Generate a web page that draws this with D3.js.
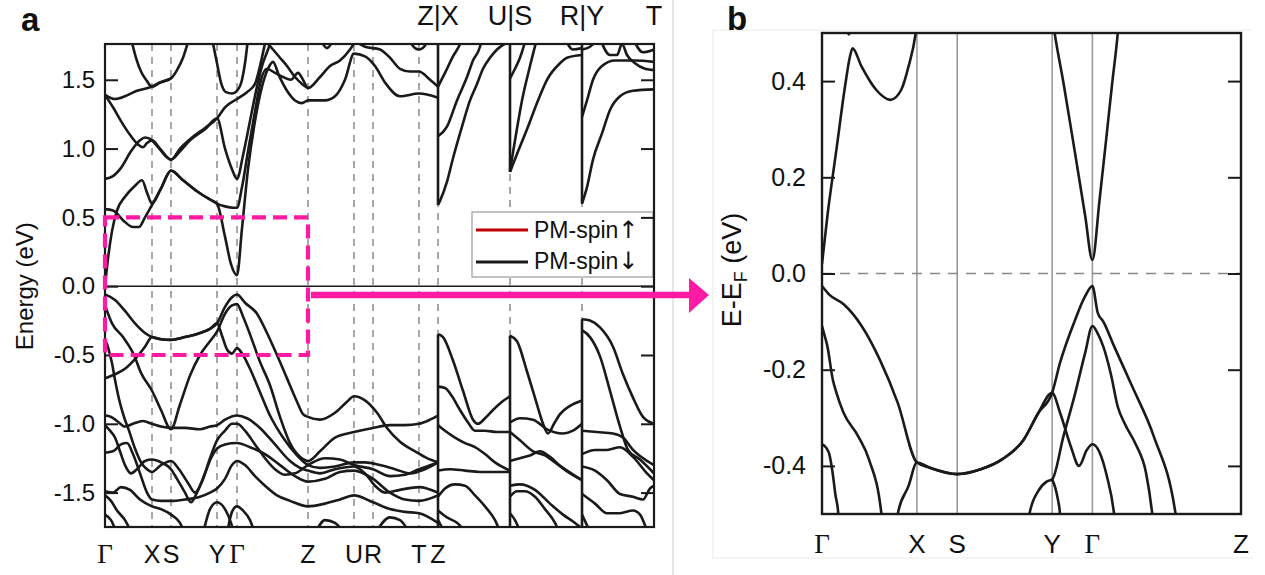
<!DOCTYPE html>
<html>
<head>
<meta charset="utf-8">
<script src="https://cdn.jsdelivr.net/npm/d3@7"></script>
<style>
  body { margin: 0; background: #fff; }
</style>
</head>
<body>
<svg id="chart" width="1265" height="575"></svg>
<script>
// ---------- panel a : full path ----------
var kTicksA = [0, 0.47, 0.66, 1.12, 1.32, 2.03, 2.49, 2.68, 3.14, 3.33, 4.05, 4.77, 5.49];
var kLabelsA = ["Γ", "X", "S", "Y", "Γ", "Z", "U", "R", "T", "Z"];
var topLabelsA = ["Z|X", "U|S", "R|Y", "T"];
var topLabelKA = [3.33, 4.05, 4.77, 5.49];
var energyTicksA = [-1.5, -1, -0.5, 0, 0.5, 1, 1.5];
var legendLabels = ["PM-spin", "PM-spin"];
var legendArrows = ["↑", "↓"];
var legendColors = ["#c00000", "#1a1a1a"];

// Γ-X-S-Y-Γ-Z-U-R-T-Z, conduction side
var condA1 = [
  [[0,0],[0.03,0.2],[0.07,0.4],[0.12,0.55],[0.2,0.65],[0.3,0.73],[0.37,0.77],[0.42,0.68],[0.47,0.6],[0.56,0.71],[0.66,0.84],[0.78,0.77],[0.92,0.69],[1.05,0.63],[1.12,0.6],[1.2,0.36],[1.26,0.16],[1.32,0.08],[1.37,0.42],[1.43,0.85],[1.5,1.2],[1.57,1.45],[1.63,1.58],[1.68,1.63],[1.74,1.53],[1.82,1.42],[1.9,1.35],[1.97,1.33],[2.03,1.35],[2.2,1.35],[2.3,1.38],[2.4,1.5],[2.49,1.69],[2.6,1.67],[2.7,1.6],[2.8,1.48],[2.95,1.38],[3.14,1.4],[3.33,1.37]],
  [[0,0.56],[0.08,0.55],[0.18,0.48],[0.28,0.43],[0.34,0.43],[0.4,0.5],[0.47,0.59],[0.56,0.71],[0.66,0.84],[0.78,0.77],[0.92,0.69],[1.05,0.63],[1.12,0.6],[1.2,0.58],[1.28,0.57],[1.32,0.57],[1.37,0.72],[1.43,0.98],[1.5,1.27],[1.56,1.5],[1.62,1.58],[1.7,1.55],[1.78,1.52],[1.86,1.5],[1.93,1.55],[1.98,1.5],[2.03,1.44],[2.15,1.52],[2.25,1.6],[2.35,1.64],[2.45,1.72],[2.52,1.8]],
  [[0,0.78],[0.08,0.8],[0.16,0.86],[0.26,0.98],[0.35,1.06],[0.4,1.08],[0.45,1.07],[0.52,1.02],[0.6,0.95],[0.66,0.92],[0.75,0.98],[0.85,1.06],[1.0,1.14],[1.12,1.22],[1.2,1.0],[1.27,0.85],[1.32,0.78],[1.38,0.95],[1.45,1.2],[1.52,1.45],[1.57,1.6],[1.62,1.7],[1.67,1.8]],
  [[0,1.39],[0.08,1.3],[0.16,1.2],[0.25,1.1],[0.33,1.03],[0.38,1.01],[0.42,1.04],[0.47,1.06],[0.55,1.0],[0.66,0.92],[0.75,1.0],[0.87,1.08],[1.0,1.15],[1.12,1.22],[1.2,1.3],[1.32,1.36],[1.42,1.41],[1.5,1.47],[1.55,1.6],[1.59,1.73],[1.61,1.8]],
  [[0,1.39],[0.1,1.36],[0.2,1.38],[0.32,1.42],[0.47,1.45],[0.55,1.48],[0.66,1.51],[0.72,1.57],[0.78,1.66],[0.84,1.8]],
  [[0.26,1.8],[0.31,1.66],[0.36,1.56],[0.42,1.49],[0.47,1.45],[0.55,1.48],[0.66,1.51]],
  [[1.07,1.8],[1.12,1.62],[1.16,1.48],[1.21,1.41],[1.27,1.4],[1.32,1.42],[1.37,1.5],[1.4,1.62],[1.43,1.8]],
  [[1.58,1.8],[1.68,1.72],[1.75,1.66],[1.82,1.6],[1.9,1.52],[1.97,1.47],[2.03,1.44]],
  [[2.47,1.8],[2.6,1.74],[2.75,1.72],[2.85,1.66],[2.95,1.58],[3.05,1.56],[3.14,1.56],[3.25,1.5],[3.33,1.45]],
  [[3.03,1.8],[3.1,1.73],[3.14,1.72],[3.19,1.74],[3.24,1.8]],
  [[2.15,1.8],[2.22,1.73],[2.29,1.8]]
];

// Γ-X-S-Y-Γ-Z-U-R-T-Z, valence side
var valA1 = [
  [[0,-0.06],[0.1,-0.1],[0.2,-0.18],[0.3,-0.27],[0.4,-0.34],[0.47,-0.37],[0.56,-0.385],[0.66,-0.39],[0.8,-0.37],[0.95,-0.34],[1.05,-0.31],[1.12,-0.27],[1.2,-0.15],[1.27,-0.08],[1.32,-0.06],[1.4,-0.12],[1.52,-0.2],[1.62,-0.34],[1.72,-0.5],[1.82,-0.67],[1.92,-0.84],[1.98,-0.93],[2.03,-0.95],[2.15,-0.97],[2.3,-0.92],[2.42,-0.84],[2.49,-0.8],[2.6,-0.83],[2.72,-0.92],[2.82,-1.03],[2.95,-1.13],[3.1,-1.2],[3.22,-1.25],[3.33,-1.28]],
  [[0,-0.14],[0.07,-0.27],[0.18,-0.37],[0.29,-0.5],[0.36,-0.63],[0.47,-0.76],[0.56,-0.9],[0.66,-1.04],[0.75,-0.86],[0.85,-0.65],[0.95,-0.5],[1.05,-0.4],[1.12,-0.33],[1.2,-0.2],[1.27,-0.14],[1.32,-0.13],[1.38,-0.22],[1.45,-0.35],[1.55,-0.55],[1.65,-0.72],[1.75,-0.95],[1.85,-1.14],[1.95,-1.24],[2.03,-1.27],[2.15,-1.2],[2.3,-1.1],[2.49,-1.06],[2.68,-1.03],[2.85,-1.01],[3.0,-1.01],[3.14,-1.0],[3.25,-0.97],[3.33,-0.94]],
  [[0,-0.4],[0.02,-0.42],[0.04,-0.47],[0.07,-0.56],[0.1,-0.68],[0.14,-0.82],[0.19,-0.95],[0.24,-1.05],[0.3,-1.18],[0.36,-1.28],[0.42,-1.33],[0.47,-1.35],[0.56,-1.3],[0.66,-1.27],[0.74,-1.33],[0.83,-1.43],[0.9,-1.5],[0.97,-1.42],[1.05,-1.25],[1.12,-1.12],[1.2,-1.05],[1.27,-1.0],[1.32,-1.0],[1.4,-1.05],[1.5,-1.15],[1.6,-1.25],[1.7,-1.33],[1.8,-1.37],[1.9,-1.36],[2.03,-1.3],[2.2,-1.25],[2.35,-1.26],[2.49,-1.3],[2.68,-1.33],[2.85,-1.38],[3.0,-1.37],[3.14,-1.33],[3.33,-1.28]],
  [[0,-0.67],[0.1,-0.64],[0.2,-0.6],[0.3,-0.53],[0.4,-0.44],[0.47,-0.37],[0.56,-0.385],[0.66,-0.39],[0.8,-0.37],[0.95,-0.34],[1.05,-0.31],[1.12,-0.27],[1.17,-0.36],[1.22,-0.46],[1.27,-0.49],[1.32,-0.45],[1.38,-0.5],[1.45,-0.6],[1.55,-0.77],[1.65,-0.94],[1.78,-1.1],[1.92,-1.23],[2.03,-1.3],[2.15,-1.32],[2.3,-1.31],[2.49,-1.28],[2.6,-1.28],[2.75,-1.3],[2.9,-1.33],[3.05,-1.36],[3.2,-1.33],[3.33,-1.28]],
  [[0,-0.94],[0.06,-0.95],[0.12,-0.98],[0.2,-1.02],[0.28,-1.0],[0.38,-0.98],[0.47,-1.0],[0.56,-1.02],[0.66,-1.03],[0.8,-1.03],[0.95,-1.04],[1.05,-1.02],[1.12,-1.01],[1.2,-0.97],[1.32,-0.94],[1.42,-0.96],[1.55,-1.03],[1.7,-1.15],[1.85,-1.27],[1.95,-1.32],[2.03,-1.34],[2.15,-1.36],[2.3,-1.33],[2.49,-1.31],[2.6,-1.36],[2.7,-1.45],[2.8,-1.5],[2.95,-1.48],[3.14,-1.46],[3.33,-1.5]],
  [[0,-1.01],[0.05,-1.05],[0.1,-1.1],[0.15,-1.2],[0.2,-1.3],[0.26,-1.36],[0.32,-1.33],[0.4,-1.27],[0.47,-1.26],[0.56,-1.28],[0.66,-1.33],[0.72,-1.4],[0.8,-1.5],[0.86,-1.57],[0.92,-1.5],[1.0,-1.36],[1.06,-1.25],[1.12,-1.18],[1.2,-1.15],[1.32,-1.14],[1.45,-1.17],[1.6,-1.22],[1.75,-1.3],[1.9,-1.38],[2.03,-1.42],[2.2,-1.4],[2.35,-1.35],[2.49,-1.34],[2.68,-1.4],[2.85,-1.5],[3.0,-1.55],[3.14,-1.56],[3.33,-1.52]],
  [[0,-1.21],[0.08,-1.2],[0.16,-1.15],[0.22,-1.14],[0.28,-1.22],[0.35,-1.36],[0.42,-1.5],[0.47,-1.55],[0.56,-1.56],[0.66,-1.56],[0.8,-1.55],[0.95,-1.53],[1.05,-1.5],[1.12,-1.47],[1.2,-1.4],[1.27,-1.3],[1.32,-1.27],[1.4,-1.3],[1.5,-1.38],[1.6,-1.45],[1.72,-1.52],[1.85,-1.56],[2.03,-1.6],[2.2,-1.58],[2.35,-1.55],[2.49,-1.52],[2.68,-1.57],[2.85,-1.62],[3.0,-1.64],[3.14,-1.65],[3.33,-1.72]],
  [[0,-1.49],[0.08,-1.5],[0.16,-1.46],[0.25,-1.48],[0.35,-1.55],[0.47,-1.6],[0.56,-1.62],[0.66,-1.66],[0.75,-1.72],[0.8,-1.8]],
  [[0,-1.52],[0.06,-1.56],[0.12,-1.63],[0.2,-1.7],[0.27,-1.8]],
  [[0,-1.66],[0.06,-1.7],[0.12,-1.8]],
  [[0.98,-1.8],[1.05,-1.62],[1.12,-1.57],[1.2,-1.62],[1.26,-1.72],[1.29,-1.8]],
  [[1.22,-1.8],[1.27,-1.64],[1.32,-1.6],[1.38,-1.63],[1.45,-1.7],[1.5,-1.8]],
  [[2.1,-1.8],[2.2,-1.7],[2.3,-1.72],[2.4,-1.8]],
  [[2.7,-1.8],[2.85,-1.68],[2.95,-1.7],[3.05,-1.8]]
];

// X-U
var condA2 = [
  [[3.33,0.59],[3.35,0.62],[3.42,0.76],[3.48,0.93],[3.57,1.16],[3.65,1.35],[3.72,1.47],[3.78,1.58],[3.85,1.66],[3.92,1.72],[4.05,1.78]],
  [[3.33,1.09],[3.42,1.16],[3.52,1.35],[3.62,1.52],[3.68,1.64],[3.75,1.74],[3.77,1.8]],
  [[3.33,1.45],[3.4,1.55],[3.48,1.67],[3.55,1.76],[3.57,1.8]]
];
var valA2 = [
  [[3.33,-0.35],[3.38,-0.37],[3.48,-0.54],[3.58,-0.76],[3.68,-0.97],[3.73,-1.0],[3.8,-0.96],[3.88,-0.9],[3.97,-0.84],[4.05,-0.8]],
  [[3.33,-0.73],[3.4,-0.74],[3.47,-0.8],[3.55,-0.9],[3.63,-0.99],[3.7,-1.05],[3.8,-1.05],[3.92,-1.06],[4.05,-1.06]],
  [[3.33,-1.01],[3.4,-1.05],[3.5,-1.1],[3.6,-1.14],[3.7,-1.17],[3.8,-1.22],[3.9,-1.28],[4.05,-1.34]],
  [[3.33,-1.34],[3.45,-1.33],[3.6,-1.34],[3.75,-1.35],[3.9,-1.35],[4.05,-1.35]],
  [[3.33,-1.53],[3.4,-1.47],[3.5,-1.44],[3.6,-1.45],[3.7,-1.52],[3.8,-1.6],[3.9,-1.7],[3.96,-1.8]],
  [[3.33,-1.63],[3.42,-1.68],[3.52,-1.72],[3.62,-1.8]],
  [[3.33,-1.7],[3.36,-1.74],[3.4,-1.8]]
];

// S-R
var condA3 = [
  [[4.05,0.83],[4.12,0.96],[4.22,1.14],[4.33,1.35],[4.42,1.5],[4.55,1.62],[4.62,1.66],[4.77,1.68]],
  [[4.05,0.84],[4.1,1.06],[4.17,1.35],[4.25,1.6],[4.32,1.8]],
  [[4.05,1.51],[4.1,1.58],[4.15,1.66],[4.21,1.8]],
  [[4.6,1.8],[4.68,1.72],[4.77,1.73]]
];
var valA3 = [
  [[4.05,-0.36],[4.12,-0.4],[4.22,-0.62],[4.32,-0.86],[4.38,-1.0],[4.43,-1.07],[4.49,-1.0],[4.55,-0.93],[4.65,-0.87],[4.77,-0.83]],
  [[4.05,-0.99],[4.15,-0.96],[4.28,-0.97],[4.42,-1.04],[4.58,-1.07],[4.68,-1.05],[4.77,-1.0]],
  [[4.05,-1.06],[4.15,-1.12],[4.28,-1.2],[4.4,-1.23],[4.5,-1.28],[4.62,-1.34],[4.77,-1.41]],
  [[4.05,-1.27],[4.15,-1.25],[4.25,-1.23],[4.35,-1.2],[4.45,-1.24],[4.57,-1.32],[4.77,-1.41]],
  [[4.05,-1.45],[4.15,-1.44],[4.3,-1.48],[4.45,-1.58],[4.58,-1.66],[4.68,-1.71],[4.77,-1.76]],
  [[4.05,-1.53],[4.12,-1.49],[4.2,-1.49],[4.3,-1.53],[4.4,-1.62],[4.5,-1.72],[4.55,-1.8]],
  [[4.05,-1.65],[4.1,-1.7],[4.16,-1.8]]
];

// Y-T
var condA4 = [
  [[4.77,0.6],[4.82,0.72],[4.88,0.92],[4.97,1.11],[5.05,1.28],[5.15,1.38],[5.28,1.42],[5.49,1.43]],
  [[4.77,1.23],[4.82,1.35],[4.88,1.5],[4.97,1.6],[5.1,1.64],[5.3,1.64],[5.49,1.63]],
  [[4.95,1.8],[5.05,1.68],[5.12,1.68],[5.17,1.76],[5.22,1.68],[5.3,1.62],[5.4,1.58],[5.49,1.57]],
  [[4.77,1.72],[4.85,1.74],[4.93,1.8]],
  [[5.28,1.8],[5.38,1.7],[5.49,1.72]]
];
var valA4 = [
  [[4.77,-0.24],[4.85,-0.25],[4.95,-0.3],[5.08,-0.44],[5.18,-0.64],[5.28,-0.81],[5.38,-0.95],[5.49,-1.0]],
  [[4.77,-0.32],[4.85,-0.37],[4.95,-0.51],[5.05,-0.76],[5.15,-1.02],[5.23,-1.19],[5.35,-1.26],[5.49,-1.36]],
  [[4.77,-1.05],[4.92,-1.06],[5.08,-1.07],[5.18,-1.1],[5.28,-1.19],[5.42,-1.27],[5.49,-1.3]],
  [[4.77,-1.22],[4.9,-1.19],[5.02,-1.19],[5.15,-1.17],[5.28,-1.24],[5.42,-1.36],[5.49,-1.41]],
  [[4.77,-1.31],[4.9,-1.34],[5.02,-1.41],[5.15,-1.51],[5.28,-1.53],[5.38,-1.55],[5.45,-1.47],[5.49,-1.45]],
  [[4.77,-1.51],[4.9,-1.58],[5.02,-1.65],[5.15,-1.65],[5.28,-1.63],[5.35,-1.66],[5.43,-1.8]],
  [[4.77,-1.66],[4.86,-1.8]]
];

// ---------- panel b : zoom near E_F ----------
var kTicksB = [0, 0.46, 0.655, 1.115, 1.31, 2.03];
var kLabelsB = ["Γ", "X", "S", "Y", "Γ", "Z"];
var energyTicksB = [-0.4, -0.2, 0, 0.2, 0.4];

var condB = [
  [[0,0.02],[0.026,0.119],[0.07,0.258],[0.114,0.396],[0.135,0.45],[0.148,0.468],[0.192,0.43],[0.262,0.382],[0.332,0.361],[0.384,0.382],[0.419,0.43],[0.454,0.5],[0.46,0.52]],
  [[0.112,0.52],[0.13,0.497],[0.148,0.52]],
  [[1.12,0.52],[1.127,0.5],[1.17,0.396],[1.223,0.258],[1.275,0.12],[1.31,0.028],[1.345,0.154],[1.38,0.292],[1.406,0.396],[1.433,0.5],[1.437,0.52]]
];
var valB = [
  [[0,-0.026],[0.035,-0.044],[0.105,-0.064],[0.192,-0.109],[0.28,-0.179],[0.367,-0.269],[0.46,-0.393],[0.524,-0.404],[0.655,-0.417],[0.769,-0.407],[0.874,-0.386],[0.978,-0.345],[1.048,-0.29],[1.115,-0.248],[1.153,-0.186],[1.223,-0.1],[1.275,-0.047],[1.31,-0.026],[1.336,-0.082],[1.363,-0.1],[1.415,-0.151],[1.502,-0.234],[1.607,-0.338],[1.712,-0.497],[1.72,-0.52]],
  [[0.36,-0.52],[0.367,-0.5],[0.419,-0.442],[0.46,-0.393],[0.524,-0.404],[0.655,-0.417],[0.769,-0.407],[0.874,-0.386],[0.978,-0.345],[1.048,-0.29],[1.115,-0.248],[1.153,-0.289],[1.205,-0.359],[1.245,-0.4],[1.284,-0.366],[1.31,-0.355],[1.345,-0.372],[1.38,-0.421],[1.415,-0.5],[1.42,-0.52]],
  [[0,-0.109],[0.01,-0.125],[0.026,-0.151],[0.052,-0.22],[0.07,-0.248],[0.105,-0.29],[0.175,-0.338],[0.227,-0.386],[0.288,-0.5],[0.292,-0.52]],
  [[0,-0.355],[0.02,-0.362],[0.035,-0.375],[0.05,-0.41],[0.065,-0.46],[0.079,-0.5],[0.082,-0.52]],
  [[1.0,-0.52],[1.005,-0.5],[1.048,-0.452],[1.09,-0.432],[1.115,-0.428],[1.17,-0.338],[1.223,-0.255],[1.275,-0.165],[1.31,-0.109],[1.336,-0.125],[1.363,-0.152],[1.4,-0.21],[1.433,-0.277],[1.47,-0.315],[1.52,-0.355],[1.57,-0.415],[1.6,-0.5],[1.605,-0.52]],
  [[1.115,-0.428],[1.13,-0.445],[1.143,-0.47],[1.153,-0.5],[1.156,-0.52]]
];

var FONT = "Arial, 'Liberation Sans', sans-serif";
var SERIF = "'Liberation Serif', 'Times New Roman', serif";
var INK = "#1a1a1a";
var PINK = "#ff1aa3";

var svg = d3.select("#chart");
var defs = svg.append("defs");

// light separators of the composed figure
svg.append("line").attr("x1", 673).attr("x2", 673).attr("y1", 0).attr("y2", 575)
  .attr("stroke", "#dedede").attr("stroke-width", 1.5);
svg.append("path").attr("d", "M1253,30 H713 V558 H1253")
  .attr("fill", "none").attr("stroke", "#ececec").attr("stroke-width", 1.2);

function drawBands(g, bands, line, w) {
  g.selectAll(null).data(bands).enter().append("path")
    .attr("d", line)
    .attr("fill", "none")
    .attr("stroke", INK)
    .attr("stroke-width", w)
    .attr("stroke-linejoin", "round");
}

function styleAxis(g, size) {
  g.select(".domain").remove();
  g.selectAll("line").attr("stroke", INK).attr("stroke-width", 2);
  g.selectAll("text").attr("font-size", size).attr("font-family", FONT).attr("fill", "#111");
}

// ================= panel a =================
var xA = d3.scaleLinear().domain([0, 5.49]).range([105, 654]);
var yA = d3.scaleLinear().domain([-1.75, 1.76]).range([527, 44]);

defs.append("clipPath").attr("id", "clipA").append("rect")
  .attr("x", xA(0)).attr("y", yA(1.76))
  .attr("width", xA(5.49) - xA(0)).attr("height", yA(-1.75) - yA(1.76));

var pa = svg.append("g");

pa.selectAll(".kline").data(kTicksA.slice(1, -1)).enter().append("line")
  .attr("x1", d => xA(d)).attr("x2", d => xA(d))
  .attr("y1", yA(1.76)).attr("y2", yA(-1.75))
  .attr("stroke", "#8a8a8a").attr("stroke-width", 1.5).attr("stroke-dasharray", "7,6");

pa.append("line")
  .attr("x1", xA(0)).attr("x2", xA(5.49)).attr("y1", yA(0)).attr("y2", yA(0))
  .attr("stroke", INK).attr("stroke-width", 1.6);

var lineA = d3.line().x(d => xA(d[0])).y(d => yA(d[1])).curve(d3.curveMonotoneX);
var bandsA = [].concat(condA1, valA1, condA2, valA2, condA3, valA3, condA4, valA4);
var bandLayerA = pa.append("g").attr("clip-path", "url(#clipA)");
drawBands(bandLayerA, bandsA, lineA, 2.6);

// band jumps at the path discontinuities Z|X, U|S, R|Y
topLabelKA.slice(0, 3).forEach(function (k) {
  var ends = [];
  bandsA.forEach(function (b) { b.forEach(function (p) { if (p[0] === k) ends.push(p[1]); }); });
  var vTop = d3.max(ends.filter(e => e < 0));
  var cBot = d3.min(ends.filter(e => e > 0));
  [[-1.75, vTop], [cBot, 1.76]].forEach(function (r) {
    bandLayerA.append("line")
      .attr("x1", xA(k)).attr("x2", xA(k)).attr("y1", yA(r[0])).attr("y2", yA(r[1]))
      .attr("stroke", INK).attr("stroke-width", 2.6);
  });
});

// legend
var lg = pa.append("g").attr("transform", "translate(472,212)");
lg.append("rect").attr("width", 181).attr("height", 65)
  .attr("fill", "#fff").attr("stroke", "#9a9a9a").attr("stroke-width", 1.2);
legendLabels.forEach(function (t, i) {
  lg.append("line").attr("x1", 4).attr("x2", 56).attr("y1", 18 + i * 32).attr("y2", 18 + i * 32)
    .attr("stroke", legendColors[i]).attr("stroke-width", 3);
  var tx = lg.append("text").attr("x", 62).attr("y", 26 + i * 31)
    .attr("font-family", FONT).attr("font-size", 23).attr("fill", "#111");
  tx.append("tspan").text(t);
  tx.append("tspan").attr("font-family", "'DejaVu Sans', sans-serif").attr("font-size", 24).text(legendArrows[i]);
});

// frame + ticks
pa.append("rect")
  .attr("x", xA(0)).attr("y", yA(1.76))
  .attr("width", xA(5.49) - xA(0)).attr("height", yA(-1.75) - yA(1.76))
  .attr("fill", "none").attr("stroke", INK).attr("stroke-width", 2.2);

pa.append("g").attr("transform", "translate(" + xA(0) + ",0)")
  .call(d3.axisLeft(yA).tickValues(energyTicksA).tickSize(-13).tickPadding(10).tickFormat(d => d.toFixed(1)))
  .call(g => styleAxis(g, 24));
pa.append("g").attr("transform", "translate(" + xA(5.49) + ",0)")
  .call(d3.axisRight(yA).tickValues(energyTicksA).tickSize(-13).tickFormat(""))
  .call(g => styleAxis(g, 24));

// k labels
kLabelsA.forEach(function (t, i) {
  pa.append("text").attr("x", xA(kTicksA[i])).attr("y", 563).attr("text-anchor", "middle")
    .attr("font-family", t === "Γ" ? SERIF : FONT).attr("font-size", t === "Γ" ? 27 : 25)
    .attr("fill", "#111").text(t);
});
topLabelsA.forEach(function (t, i) {
  pa.append("text").attr("x", xA(topLabelKA[i])).attr("y", 25).attr("text-anchor", "middle")
    .attr("font-family", FONT).attr("font-size", 27).attr("fill", "#111").text(t);
});

pa.append("text").attr("transform", "translate(33," + yA(0) + ") rotate(-90)")
  .attr("text-anchor", "middle").attr("font-family", FONT).attr("font-size", 24)
  .attr("fill", "#111").text("Energy (eV)");

svg.append("text").attr("x", 21).attr("y", 31).attr("font-family", FONT)
  .attr("font-weight", "bold").attr("font-size", 33).attr("fill", "#111").text("a");

// zoom window + arrow
pa.append("rect")
  .attr("x", xA(0)).attr("y", yA(0.5))
  .attr("width", xA(2.03) - xA(0)).attr("height", yA(-0.5) - yA(0.5))
  .attr("fill", "none").attr("stroke", PINK).attr("stroke-width", 4.2)
  .attr("stroke-dasharray", "14,7");
pa.append("line").attr("x1", xA(2.03) + 3).attr("x2", 692).attr("y1", 295).attr("y2", 295)
  .attr("stroke", PINK).attr("stroke-width", 6.5);
pa.append("path").attr("d", "M689,278 L709,295 L689,313 Z").attr("fill", PINK);

// ================= panel b =================
var xB = d3.scaleLinear().domain([0, 2.03]).range([822, 1241]);
var yB = d3.scaleLinear().domain([-0.5, 0.5]).range([514, 33]);

defs.append("clipPath").attr("id", "clipB").append("rect")
  .attr("x", xB(0)).attr("y", yB(0.5))
  .attr("width", xB(2.03) - xB(0)).attr("height", yB(-0.5) - yB(0.5));

var pb = svg.append("g");

pb.selectAll(".kline").data(kTicksB.slice(1, -1)).enter().append("line")
  .attr("x1", d => xB(d)).attr("x2", d => xB(d))
  .attr("y1", yB(0.5)).attr("y2", yB(-0.5))
  .attr("stroke", "#9a9a9a").attr("stroke-width", 1.6);

pb.append("line")
  .attr("x1", xB(0)).attr("x2", xB(2.03)).attr("y1", yB(0)).attr("y2", yB(0))
  .attr("stroke", "#888").attr("stroke-width", 1.6).attr("stroke-dasharray", "10,8");

var lineB = d3.line().x(d => xB(d[0])).y(d => yB(d[1])).curve(d3.curveMonotoneX);
drawBands(pb.append("g").attr("clip-path", "url(#clipB)"), condB.concat(valB), lineB, 2.6);

pb.append("rect")
  .attr("x", xB(0)).attr("y", yB(0.5))
  .attr("width", xB(2.03) - xB(0)).attr("height", yB(-0.5) - yB(0.5))
  .attr("fill", "none").attr("stroke", INK).attr("stroke-width", 2.4);

pb.append("g").attr("transform", "translate(" + xB(0) + ",0)")
  .call(d3.axisLeft(yB).tickValues(energyTicksB).tickSize(-13).tickPadding(16).tickFormat(d => d.toFixed(1)))
  .call(g => styleAxis(g, 25));
pb.append("g").attr("transform", "translate(" + xB(2.03) + ",0)")
  .call(d3.axisRight(yB).tickValues(energyTicksB).tickSize(-13).tickFormat(""))
  .call(g => styleAxis(g, 25));

kLabelsB.forEach(function (t, i) {
  pb.append("text").attr("x", xB(kTicksB[i])).attr("y", 553).attr("text-anchor", "middle")
    .attr("font-family", t === "Γ" ? SERIF : FONT).attr("font-size", t === "Γ" ? 27 : 26)
    .attr("fill", "#111").text(t);
});

var tb = pb.append("text").attr("transform", "translate(741,270) rotate(-90)")
  .attr("text-anchor", "middle").attr("font-family", FONT).attr("font-size", 27).attr("fill", "#111");
tb.append("tspan").text("E-E");
tb.append("tspan").attr("font-size", 18).attr("dy", 6).text("F");
tb.append("tspan").attr("dy", -6).text(" (eV)");

svg.append("text").attr("x", 727).attr("y", 30).attr("font-family", FONT)
  .attr("font-weight", "bold").attr("font-size", 33).attr("fill", "#111").text("b");
</script>
</body>
</html>
